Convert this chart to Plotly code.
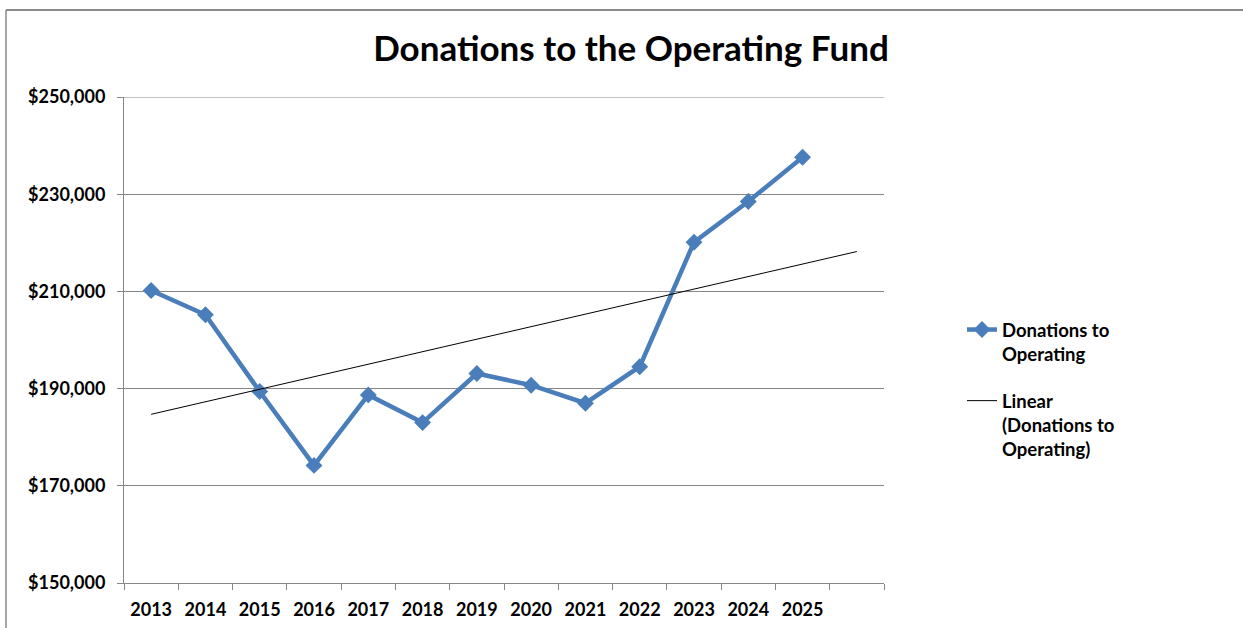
import numpy as np
import plotly.graph_objects as go

years = ["2013", "2014", "2015", "2016", "2017", "2018", "2019",
         "2020", "2021", "2022", "2023", "2024", "2025"]
donations = [210200, 205200, 189400, 174200, 188700, 183000, 193100,
             190700, 187000, 194500, 220100, 228500, 237600]
y_ticks = [150000, 170000, 190000, 210000, 230000, 250000]

W, H = 1243, 628
L, R, T, B = 124, 359, 97, 45
pw, ph = W - L - R, H - T - B

x_pos = np.arange(1, len(years) + 1)
slope, intercept = np.polyfit(x_pos, donations, 1)
x_trend = np.arange(1, len(years) + 2)  # forecast forward one period
y_trend = slope * x_trend + intercept

BLUE = "#4A7EBB"
GRID = "#868686"
FONT = "Lato"

fig = go.Figure()
fig.add_trace(go.Scatter(
    x=x_pos, y=donations, mode="lines+markers",
    name="Donations to<br>Operating", legendgroup="a",
    line=dict(color=BLUE, width=4.5),
    marker=dict(symbol="diamond", size=13, color=BLUE),
))
fig.add_trace(go.Scatter(
    x=x_trend, y=y_trend, mode="lines",
    name="Linear<br>(Donations to<br>Operating)", legendgroup="b",
    line=dict(color="black", width=1),
))

def px_x(p):
    return (p - L) / pw

def px_y(p):
    return (H - B - p) / ph

fig.update_layout(
    width=W, height=H,
    margin=dict(l=L, r=R, t=T, b=B, autoexpand=False),
    paper_bgcolor="white", plot_bgcolor="white",
    font=dict(family=FONT, color="black"),
    title=dict(text="<b>Donations to the Operating Fund</b>",
               font=dict(family=FONT, size=35, color="black"),
               x=px_x(631), xref="paper", xanchor="center",
               y=1 - 49 / H, yref="container", yanchor="middle"),
    showlegend=True,
    legend=dict(x=px_x(962), y=px_y(311), xanchor="left", yanchor="top",
                font=dict(family=FONT, size=18.5, color="black", weight="bold"),
                valign="top", tracegroupgap=20, bgcolor="rgba(0,0,0,0)"),
    xaxis=dict(range=[0.5, len(years) + 1.5], automargin=False,
               tickmode="array", tickvals=list(x_pos), ticktext=years,
               ticks="", showgrid=False, zeroline=False,
               showline=True, linecolor=GRID, linewidth=1,
               ticklabelstandoff=10,
               tickfont=dict(family=FONT, size=18, color="black", weight="bold"),
               minor=dict(tickmode="linear", tick0=0.5, dtick=1, ticks="outside",
                          ticklen=6, tickcolor=GRID, tickwidth=1, showgrid=False)),
    yaxis=dict(range=[150000, 250000], automargin=False,
               tickmode="array", tickvals=y_ticks,
               tickformat="$,.0f", ticks="outside", ticklen=6, tickcolor=GRID,
               showgrid=True, gridcolor=GRID, gridwidth=1, zeroline=False,
               showline=True, linecolor=GRID, linewidth=1,
               ticklabelstandoff=8,
               tickfont=dict(family=FONT, size=18, color="black", weight="bold")),
    shapes=[
        dict(type="line", xref="paper", yref="y", layer="below",
             x0=0, x1=1, y0=y_ticks[-1], y1=y_ticks[-1],
             line=dict(color=GRID, width=1)),
        dict(type="line", xref="paper", yref="paper",
             x0=px_x(6), x1=px_x(1260), y0=px_y(10), y1=px_y(10),
             line=dict(color="#8a8a8a", width=2)),
        dict(type="line", xref="paper", yref="paper",
             x0=px_x(6), x1=px_x(6), y0=px_y(10), y1=px_y(660),
             line=dict(color="#8a8a8a", width=1.5)),
    ],
)

fig.write_html("out.html")
